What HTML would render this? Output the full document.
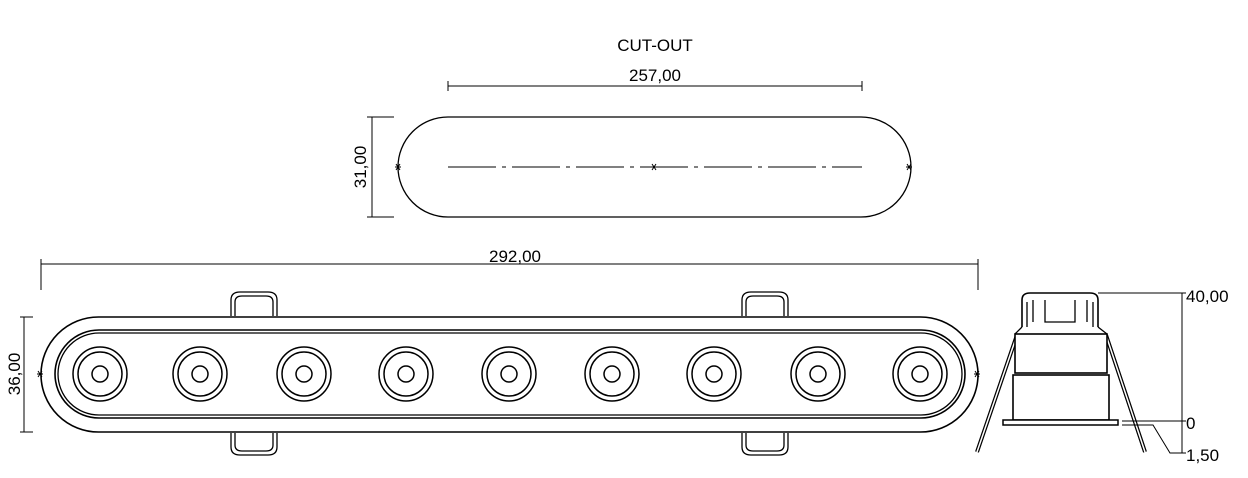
<!DOCTYPE html>
<html><head><meta charset="utf-8"><style>
html,body{margin:0;padding:0;background:#fff;}
svg{display:block;}
text{font-family:"Liberation Sans",sans-serif;fill:#000;}
</style></head><body>
<svg width="1248" height="478" viewBox="0 0 1248 478" xmlns="http://www.w3.org/2000/svg">
<g fill="none" stroke="#000" stroke-width="1.3">
<!-- CUT-OUT -->
<rect x="398" y="117" width="513" height="100" rx="50" ry="50"/>
<line x1="448" y1="167" x2="862" y2="167" stroke-width="1" stroke-dasharray="48,6,4,6"/>
<line x1="448" y1="86" x2="862" y2="86" stroke-width="1"/>
<line x1="448" y1="81" x2="448" y2="91" stroke-width="1"/>
<line x1="862" y1="81" x2="862" y2="91" stroke-width="1"/>
<line x1="372" y1="117" x2="372" y2="217" stroke-width="1"/>
<line x1="367" y1="117" x2="394" y2="117" stroke-width="1"/>
<line x1="367" y1="217" x2="394" y2="217" stroke-width="1"/>
<!-- 292 dim -->
<line x1="41" y1="264" x2="978" y2="264" stroke-width="1"/>
<line x1="41" y1="259" x2="41" y2="290" stroke-width="1"/>
<line x1="978" y1="259" x2="978" y2="290" stroke-width="1"/>
<!-- 36 dim -->
<line x1="24" y1="317" x2="24" y2="432" stroke-width="1"/>
<line x1="20" y1="317" x2="33" y2="317" stroke-width="1"/>
<line x1="20" y1="432" x2="33" y2="432" stroke-width="1"/>
<!-- tabs -->
<path d="M231 316 V300 Q231 292 240 292 H268 Q277 292 277 300 V316"/>
<path d="M235 316 V302 Q235 296 242 296 H266 Q273 296 273 302 V316"/>
<path d="M742 316 V300 Q742 292 751 292 H779 Q788 292 788 300 V316"/>
<path d="M746 316 V302 Q746 296 753 296 H777 Q784 296 784 302 V316"/>
<path d="M231 433 V447 Q231 455 240 455 H268 Q277 455 277 447 V433"/>
<path d="M235 433 V445 Q235 451 242 451 H266 Q273 451 273 445 V433"/>
<path d="M742 433 V447 Q742 455 751 455 H779 Q788 455 788 447 V433"/>
<path d="M746 433 V445 Q746 451 753 451 H777 Q784 451 784 445 V433"/>
<!-- body -->
<rect x="41" y="317" width="937" height="115" rx="57.5" ry="57.5" fill="#fff" stroke-width="1.6"/>
<rect x="55" y="330" width="910" height="88" rx="44" ry="44" stroke-width="1.6"/>
<rect x="58" y="333" width="904" height="82" rx="41" ry="41"/>
<g stroke-width="1.5">
<circle cx="100" cy="374" r="27"/><circle cx="100" cy="374" r="22"/><circle cx="100" cy="374" r="8"/>
<circle cx="200" cy="374" r="27"/><circle cx="200" cy="374" r="22"/><circle cx="200" cy="374" r="8"/>
<circle cx="304" cy="374" r="27"/><circle cx="304" cy="374" r="22"/><circle cx="304" cy="374" r="8"/>
<circle cx="406" cy="374" r="27"/><circle cx="406" cy="374" r="22"/><circle cx="406" cy="374" r="8"/>
<circle cx="509" cy="374" r="27"/><circle cx="509" cy="374" r="22"/><circle cx="509" cy="374" r="8"/>
<circle cx="612" cy="374" r="27"/><circle cx="612" cy="374" r="22"/><circle cx="612" cy="374" r="8"/>
<circle cx="714" cy="374" r="27"/><circle cx="714" cy="374" r="22"/><circle cx="714" cy="374" r="8"/>
<circle cx="818" cy="374" r="27"/><circle cx="818" cy="374" r="22"/><circle cx="818" cy="374" r="8"/>
<circle cx="920" cy="374" r="27"/><circle cx="920" cy="374" r="22"/><circle cx="920" cy="374" r="8"/>
</g>
<!-- side view -->
<line x1="1017" y1="335" x2="977" y2="452" stroke-width="4"/>
<line x1="1017" y1="335" x2="977" y2="452" stroke="#fff" stroke-width="1.5"/>
<line x1="1106" y1="335" x2="1145" y2="452" stroke-width="4"/>
<line x1="1106" y1="335" x2="1145" y2="452" stroke="#fff" stroke-width="1.5"/>
<path d="M1022 327 V300 Q1022 293 1030 293 H1090 Q1098 293 1098 300 V327" stroke-width="1.6"/>
<path d="M1027 327 V302 M1093 327 V302 M1045 300 V322 H1075 V300 M1033 300 V322 M1087 300 V322"/>
<path d="M1022 327 L1015 334 M1098 327 L1107 334"/>
<rect x="1015" y="334" width="92" height="39" fill="#fff" stroke-width="1.6"/>
<rect x="1013" y="375" width="96" height="45" fill="#fff" stroke-width="1.6"/>
<rect x="1003" y="420" width="115" height="5" fill="#fff" stroke-width="1.5"/>
<line x1="1098" y1="293" x2="1186" y2="293" stroke-width="1"/>
<line x1="1182" y1="293" x2="1182" y2="453" stroke-width="1"/>
<line x1="1122" y1="421" x2="1186" y2="421" stroke-width="1"/>
<path d="M1122 425 H1153 L1170 453 H1186" stroke-width="1"/>
</g>
<g stroke="#000" stroke-width="1">
<path d="M396 164 l4 6 M400 164 l-4 6 M395 167 h6 M907 164 l4 6 M911 164 l-4 6 M906 167 h6 M652 164 l4 6 M656 164 l-4 6 M651 167 h6"/>
<path d="M38 371 l4 6 M42 371 l-4 6 M37 374 h6 M975 371 l4 6 M979 371 l-4 6 M974 374 h6"/>
</g>
<text x="655" y="51" font-size="17" text-anchor="middle">CUT-OUT</text>
<text x="655" y="81" font-size="17" text-anchor="middle">257,00</text>
<text x="515" y="262" font-size="17" text-anchor="middle">292,00</text>
<text transform="translate(366,167) rotate(-90)" font-size="17" text-anchor="middle">31,00</text>
<text transform="translate(20,374) rotate(-90)" font-size="17" text-anchor="middle">36,00</text>
<text x="1186" y="302" font-size="17">40,00</text>
<text x="1186" y="429" font-size="17">0</text>
<text x="1186" y="461" font-size="17">1,50</text>
</svg>
</body></html>
